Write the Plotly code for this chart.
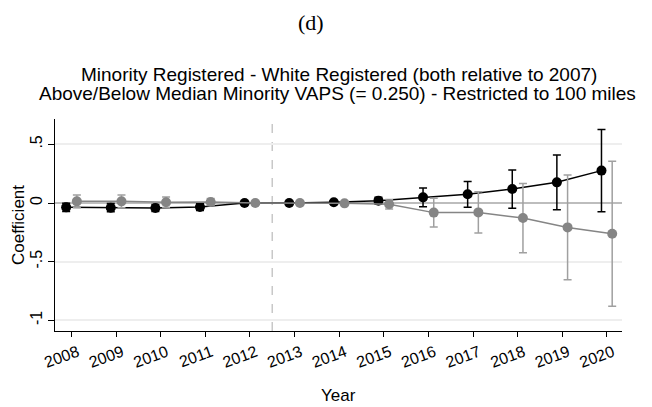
import plotly.graph_objects as go

years = [2008, 2009, 2010, 2011, 2012, 2013, 2014, 2015, 2016, 2017, 2018, 2019, 2020]
above_coef = [-0.037, -0.040, -0.043, -0.034, 0.0, 0.0, 0.006, 0.020, 0.048, 0.074, 0.119, 0.176, 0.276]
above_ci = [0.035, 0.035, 0.030, 0.030, 0.0, 0.0, 0.010, 0.030, 0.080, 0.110, 0.163, 0.233, 0.350]
below_coef = [0.014, 0.014, 0.006, 0.009, 0.0, 0.0, -0.003, -0.011, -0.082, -0.080, -0.128, -0.208, -0.262]
below_ci = [0.055, 0.055, 0.045, 0.030, 0.0, 0.0, 0.008, 0.040, 0.122, 0.175, 0.295, 0.447, 0.617]
ytick_vals = [-1, -0.5, 0, 0.5]
ytick_text = ["-1", "-.5", "0", ".5"]
offset = 0.12

fig = go.Figure()
fig.add_trace(go.Scatter(
    x=[y - offset for y in years], y=above_coef, mode="lines+markers",
    line=dict(color="black", width=1.5),
    marker=dict(color="black", size=10),
    error_y=dict(type="data", array=above_ci, visible=True, color="black", thickness=1.5, width=4),
    showlegend=False))
fig.add_trace(go.Scatter(
    x=[y + offset for y in years], y=below_coef, mode="lines+markers",
    line=dict(color="#858585", width=1.5),
    marker=dict(color="#858585", size=10),
    error_y=dict(type="data", array=below_ci, visible=True, color="#a0a0a0", thickness=1.5, width=4),
    showlegend=False))

fig.add_shape(type="line", xref="x", yref="paper", x0=2012.5, x1=2012.5, y0=0, y1=1,
              line=dict(color="#c8c8c8", width=1.5, dash="dash"), layer="below")

# page has an 8px body margin; figure laid out in its own coordinates
P = 8
PL, PR, PT, PB = 55, 622, 119, 331  # plot area in page pixels
W, H = 652 - P, 407 - P
T = PT - P
L = PL - P
B = H - (PB - P)
R = W - (PR - P)
PW = PR - PL


def fx(px):
    return (px - PL) / PW


fig.update_layout(
    width=W, height=H,
    margin=dict(l=L, r=R, t=T, b=B, autoexpand=False),
    paper_bgcolor="white", plot_bgcolor="white",
    font=dict(family="Liberation Sans, Arial", color="black"),
    annotations=[
        dict(text="(d)", xref="paper", yref="paper", x=fx(311), y=1.0, xanchor="center", yanchor="middle",
             yshift=PT - 22, showarrow=False, font=dict(family="Liberation Serif", size=22)),
        dict(text="Minority Registered - White Registered (both relative to 2007)",
             xref="paper", yref="paper", x=fx(339), y=1.0, xanchor="center", yanchor="middle",
             yshift=PT - 74, showarrow=False, font=dict(size=19)),
        dict(text="Above/Below Median Minority VAPS (= 0.250) - Restricted to 100 miles",
             xref="paper", yref="paper", x=fx(337.5), y=1.0, xanchor="center", yanchor="middle",
             yshift=PT - 93, showarrow=False, font=dict(size=19)),
        dict(text="Year", xref="paper", yref="paper", x=fx(338), y=0, xanchor="center", yanchor="middle",
             yshift=-(395 - PB), showarrow=False, font=dict(size=17)),
        dict(text="Coefficient", xref="paper", yref="paper", x=0, y=0.5, xanchor="center", yanchor="middle",
             xshift=-(PL - 18), textangle=-90, showarrow=False, font=dict(size=17)),
    ],
    xaxis=dict(range=[2007.63, 2020.34], tickvals=years, tickangle=-20, automargin=False,
               ticks="outside", ticklen=5, tickcolor="black", tickfont=dict(size=16),
               ticklabelshift=6,
               showline=True, linecolor="black", linewidth=1.2, showgrid=False, zeroline=False),
    yaxis=dict(range=[-1.091, 0.716], tickvals=ytick_vals, ticktext=ytick_text, tickangle=-90,
               automargin=False,
               ticks="outside", ticklen=6, tickcolor="black", tickfont=dict(size=16),
               showline=True, linecolor="black", linewidth=1.2,
               showgrid=True, gridcolor="#eeeeee", gridwidth=1.5,
               zeroline=True, zerolinecolor="#bdbdbd", zerolinewidth=1.5),
)

fig.write_html("out.html")
